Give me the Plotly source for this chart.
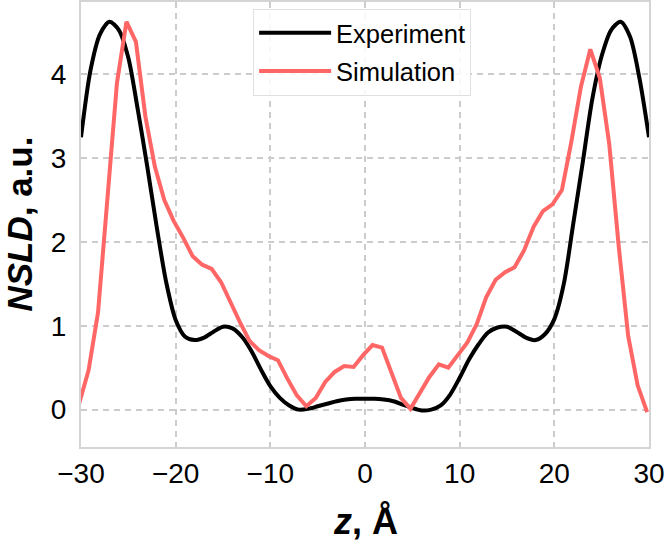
import plotly.graph_objects as go

# Experiment (smooth curve), NSLD vs z
exp_z = [-30, -29, -28, -27, -26, -25, -24, -23, -22, -21, -20, -19, -18, -17, -16, -15,
         -14, -13, -12, -11, -10, -9, -8, -7, -6, -5, -4, -3, -2, -1, 0,
         1, 2, 3, 4, 5, 6, 7, 8, 9, 10, 11, 12, 13, 14, 15,
         16, 17, 18, 19, 20, 21, 22, 23, 24, 25, 26, 27, 28, 29, 30]
exp_nsld = [3.25, 4.05, 4.48, 4.63, 4.53, 4.2, 3.58, 2.9, 2.18, 1.52, 1.07, 0.87, 0.83, 0.86, 0.93, 0.99,
            0.97, 0.87, 0.7, 0.48, 0.28, 0.14, 0.05, 0.0, 0.01, 0.04, 0.07, 0.10, 0.12, 0.13, 0.13,
            0.13, 0.12, 0.10, 0.06, 0.02, -0.01, 0.0, 0.05, 0.18, 0.38, 0.6, 0.78, 0.92, 0.98, 0.99,
            0.93, 0.86, 0.83, 0.9, 1.08, 1.5, 2.22, 2.95, 3.7, 4.22, 4.53, 4.63, 4.45, 3.95, 3.25]

# Simulation (piecewise linear)
sim_z = [-30.2, -29.2, -28.2, -27.2, -26.2, -25.2, -24.2, -23.2, -22.2, -21.2, -20.2,
         -19.2, -18.2, -17.2, -16.2, -15.2, -14.2, -13.2, -12.2, -11.2, -10.2,
         -9.2, -8.2, -7.2, -6.2, -5.2, -4.2, -3.2, -2.2, -1.2, -0.2,
         0.8, 1.8, 2.8, 3.8, 4.8, 5.8, 6.8, 7.8, 8.8, 9.8,
         10.8, 11.8, 12.8, 13.8, 14.8, 15.8, 16.8, 17.8, 18.8, 19.8,
         20.8, 21.8, 22.8, 23.8, 24.8, 25.8, 26.8, 27.8, 28.8, 29.8]
sim_nsld = [0.07, 0.47, 1.16, 2.55, 3.9, 4.63, 4.39, 3.5, 2.9, 2.5, 2.25,
            2.05, 1.83, 1.73, 1.68, 1.52, 1.27, 1.04, 0.82, 0.71, 0.64,
            0.59, 0.37, 0.17, 0.04, 0.14, 0.33, 0.45, 0.52, 0.51, 0.65,
            0.77, 0.74, 0.43, 0.14, 0.01, 0.21, 0.39, 0.54, 0.5, 0.65,
            0.8, 1.02, 1.34, 1.55, 1.64, 1.70, 1.9, 2.18, 2.37, 2.45,
            2.62, 3.2, 3.85, 4.30, 3.96, 3.17, 1.95, 0.88, 0.29, -0.03]

x_ticks = [-30, -20, -10, 0, 10, 20, 30]
y_ticks = [0, 1, 2, 3, 4]

FONT = "Liberation Sans, Arial, Helvetica, sans-serif"

fig = go.Figure()
fig.add_trace(go.Scatter(x=exp_z, y=exp_nsld, mode="lines", name="Experiment",
                         legendgroup="exp",
                         line=dict(color="black", width=4, shape="spline", smoothing=0.8)))
fig.add_trace(go.Scatter(x=sim_z, y=sim_nsld, mode="lines", name="Simulation",
                         legendgroup="sim",
                         line=dict(color="#ff6666", width=4)))

axis_common = dict(
    showline=True, mirror=True, linecolor="#d4d4d4", linewidth=2,
    showgrid=True, gridcolor="#cccccc", gridwidth=1.5, griddash="6px,5px",
    zeroline=False, ticks="", automargin=False,
    tickfont=dict(family=FONT, size=28, color="black"),
)

fig.update_layout(
    width=666, height=546,
    margin=dict(l=81, r=17, t=2, b=99),
    paper_bgcolor="white", plot_bgcolor="white",
    font=dict(family=FONT, color="black"),
    showlegend=True,
    legend=dict(x=0.303, y=0.985, xanchor="left", yanchor="top",
                bgcolor="rgba(255,255,255,0.85)", bordercolor="#e0e0e0", borderwidth=1,
                itemwidth=72, tracegroupgap=2,
                font=dict(family=FONT, size=25.5, color="black")),
    xaxis=dict(range=[-30, 30], tickvals=x_ticks, ticklabelstandoff=0, **axis_common),
    yaxis=dict(range=[-0.446, 4.865], tickvals=y_ticks, ticklabelstandoff=7, **axis_common),
    annotations=[
        dict(text="<b><i>z</i>, Å</b>", xref="paper", yref="paper", x=0.5, y=-0.168,
             xanchor="center", yanchor="middle", showarrow=False,
             font=dict(family=FONT, size=36, color="black")),
        dict(text="<b><i>NSLD</i>, a.u.</b>", xref="paper", yref="paper", x=-0.109, y=0.5,
             xanchor="center", yanchor="middle", textangle=-90, showarrow=False,
             font=dict(family=FONT, size=35, color="black")),
    ],
)

fig.write_html("out.html", config={"displayModeBar": False},
               post_script="document.body.style.margin='0';document.body.style.overflow='hidden';")
